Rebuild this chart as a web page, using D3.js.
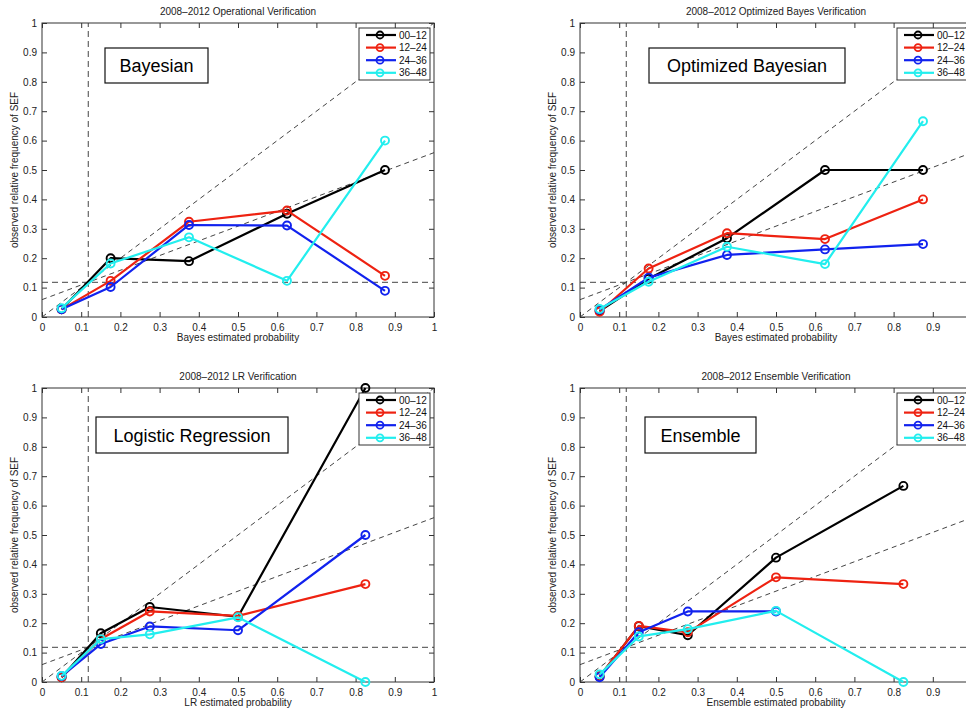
<!DOCTYPE html>
<html>
<head>
<meta charset="utf-8">
<script src="https://cdn.jsdelivr.net/npm/d3@7"></script>
<style>
  html, body { margin: 0; padding: 0; background: #fff; }
  svg { display: block; font-family: "Liberation Sans", Arial, Helvetica, sans-serif; }
</style>
</head>
<body>
<svg id="chart" width="966" height="711"></svg>
<script>
// ---- Data ----
const seriesNames = ["00–12", "12–24", "24–36", "36–48"];
const seriesColors = ["#000000", "#ee2211", "#1122ee", "#22eeee"];
const tickValues = [0, 0.1, 0.2, 0.3, 0.4, 0.5, 0.6, 0.7, 0.8, 0.9, 1];
const climatology = 0.118;

const panelTitles = ["2008–2012 Operational Verification", "2008–2012 Optimized Bayes Verification",
                     "2008–2012 LR Verification", "2008–2012 Ensemble Verification"];
const panelXLabels = ["Bayes estimated probability", "Bayes estimated probability",
                      "LR estimated probability", "Ensemble estimated probability"];
const panelBoxLabels = ["Bayesian", "Optimized Bayesian", "Logistic Regression", "Ensemble"];
const yLabel = "observed relative frequency of SEF";

const bayesX  = [0.05, 0.175, 0.375, 0.625, 0.875];
const bayes00 = [0.026, 0.200, 0.190, 0.351, 0.500];
const bayes12 = [0.026, 0.123, 0.324, 0.362, 0.140];
const bayes24 = [0.026, 0.102, 0.313, 0.311, 0.089];
const bayes36 = [0.030, 0.182, 0.271, 0.123, 0.600];

const optX  = [0.05, 0.175, 0.375, 0.625, 0.875];
const opt00 = [0.020, 0.130, 0.268, 0.500, 0.500];
const opt12 = [0.018, 0.165, 0.285, 0.265, 0.400];
const opt24 = [0.025, 0.134, 0.211, 0.230, 0.248];
const opt36 = [0.027, 0.120, 0.239, 0.180, 0.666];

const lrX  = [0.05, 0.15, 0.275, 0.5, 0.825];
const lr00 = [0.016, 0.166, 0.255, 0.222, 1.000];
const lr12 = [0.016, 0.146, 0.240, 0.225, 0.333];
const lr24 = [0.020, 0.129, 0.189, 0.176, 0.500];
const lr36 = [0.021, 0.146, 0.162, 0.220, 0.000];

const ensX  = [0.05, 0.15, 0.275, 0.5, 0.825];
const ens00 = [0.019, 0.190, 0.159, 0.423, 0.667];
const ens12 = [0.019, 0.191, 0.169, 0.356, 0.333];
const ens24 = [0.016, 0.169, 0.240, 0.240, null];
const ens36 = [0.026, 0.155, 0.180, 0.242, 0.000];

const panelX = [bayesX, optX, lrX, ensX];
const panelY = [[bayes00, bayes12, bayes24, bayes36],
                [opt00, opt12, opt24, opt36],
                [lr00, lr12, lr24, lr36],
                [ens00, ens12, ens24, ens36]];

// ---- Layout ----
const SVG_W = 966;
const panelPos = [{x: 42, y: 23}, {x: 580, y: 23}, {x: 42, y: 388}, {x: 580, y: 388}];
const boxPos = [{dx: 63, dy: 25, w: 103, h: 35}, {dx: 69, dy: 25, w: 196, h: 35},
                {dx: 54, dy: 29, w: 192, h: 36}, {dx: 65, dy: 29, w: 111, h: 36}];
const W = 392, H = 294;

const svg = d3.select("#chart");
svg.append("rect").attr("width", 966).attr("height", 711).attr("fill", "#fff");

const fmt = d => d === 0 ? "0" : d === 1 ? "1" : d.toFixed(1);

panelPos.forEach((p, i) => {
  const x = d3.scaleLinear().domain([0, 1]).range([0, W]);
  const y = d3.scaleLinear().domain([0, 1]).range([H, 0]);
  const g = svg.append("g").attr("transform", `translate(${p.x},${p.y})`);

  const clipId = "clip" + i;
  g.append("clipPath").attr("id", clipId).append("rect").attr("width", W).attr("height", H);

  // x tick labels that fall outside the window are not shown (as in the reference)
  const xFmt = d => (p.x + x(d) + 4 > SVG_W) ? "" : fmt(d);

  // Axes (ticks inside)
  const axB = g.append("g").attr("transform", `translate(0,${H})`)
    .call(d3.axisBottom(x).tickValues(tickValues).tickSize(-5).tickPadding(7).tickFormat(xFmt));
  const axT = g.append("g")
    .call(d3.axisTop(x).tickValues(tickValues).tickSize(-5).tickFormat(""));
  const axL = g.append("g")
    .call(d3.axisLeft(y).tickValues(tickValues).tickSize(-5).tickPadding(5).tickFormat(fmt));
  const axR = g.append("g").attr("transform", `translate(${W},0)`)
    .call(d3.axisRight(y).tickValues(tickValues).tickSize(-5).tickFormat(""));
  [axB, axT, axL, axR].forEach(a => {
    a.select(".domain").remove();
    a.selectAll("line").attr("stroke", "#333");
    a.selectAll("text").attr("font-size", 10).attr("fill", "#222")
      .attr("font-family", "Liberation Sans, Arial, sans-serif");
  });

  // Reference lines
  const ref = g.append("g").attr("clip-path", `url(#${clipId})`).attr("fill", "none");
  ref.append("line").attr("x1", x(0)).attr("y1", y(0)).attr("x2", x(1)).attr("y2", y(1))
    .attr("stroke", "#444").attr("stroke-width", 1).attr("stroke-dasharray", "5,4");
  ref.append("line").attr("x1", x(0)).attr("y1", y(climatology / 2)).attr("x2", x(1)).attr("y2", y((1 + climatology) / 2))
    .attr("stroke", "#444").attr("stroke-width", 1).attr("stroke-dasharray", "5,4");
  ref.append("line").attr("x1", x(0)).attr("y1", y(climatology)).attr("x2", x(1)).attr("y2", y(climatology))
    .attr("stroke", "#444").attr("stroke-width", 1).attr("stroke-dasharray", "6,4");
  ref.append("line").attr("x1", x(climatology)).attr("y1", y(0)).attr("x2", x(climatology)).attr("y2", y(1))
    .attr("stroke", "#444").attr("stroke-width", 1).attr("stroke-dasharray", "6,4");

  // Frame
  g.append("rect").attr("width", W).attr("height", H).attr("fill", "none")
    .attr("stroke", "#333").attr("stroke-width", 1);

  // Series
  const xs = panelX[i];
  panelY[i].forEach((ys, s) => {
    const pts = xs.map((xv, k) => ({x: xv, y: ys[k]})).filter(d => d.y !== null);
    const line = d3.line().x(d => x(d.x)).y(d => y(d.y));
    g.append("path").datum(pts).attr("d", line).attr("fill", "none")
      .attr("stroke", seriesColors[s]).attr("stroke-width", 2.2).attr("stroke-linejoin", "round");
    g.selectAll(null).data(pts).enter().append("circle")
      .attr("cx", d => x(d.x)).attr("cy", d => y(d.y)).attr("r", 4)
      .attr("fill", "none").attr("stroke", seriesColors[s]).attr("stroke-width", 1.9);
  });

  // Method label box
  const b = boxPos[i];
  g.append("rect").attr("x", b.dx).attr("y", b.dy).attr("width", b.w).attr("height", b.h)
    .attr("fill", "#fff").attr("stroke", "#111").attr("stroke-width", 1.2);
  g.append("text").attr("x", b.dx + b.w / 2).attr("y", b.dy + b.h / 2 + 6.5)
    .attr("text-anchor", "middle").attr("font-size", 18).attr("fill", "#000").text(panelBoxLabels[i]);

  // Legend
  const lg = g.append("g").attr("transform", `translate(${W - 75},5)`);
  lg.append("rect").attr("width", 71).attr("height", 52).attr("fill", "#fff")
    .attr("stroke", "#333").attr("stroke-width", 1);
  seriesNames.forEach((name, s) => {
    const yy = 7 + s * 12.6;
    lg.append("line").attr("x1", 7).attr("x2", 37).attr("y1", yy).attr("y2", yy)
      .attr("stroke", seriesColors[s]).attr("stroke-width", 2.2);
    lg.append("circle").attr("cx", 21).attr("cy", yy).attr("r", 3.5)
      .attr("fill", "none").attr("stroke", seriesColors[s]).attr("stroke-width", 1.8);
    lg.append("text").attr("x", 40).attr("y", yy + 3.6).attr("font-size", 10)
      .attr("fill", "#111").text(name);
  });

  // Titles and axis labels
  g.append("text").attr("x", W / 2).attr("y", -8).attr("text-anchor", "middle")
    .attr("font-size", 10).attr("fill", "#222").text(panelTitles[i]);
  g.append("text").attr("x", W / 2).attr("y", H + 24).attr("text-anchor", "middle")
    .attr("font-size", 10).attr("fill", "#222").text(panelXLabels[i]);
  g.append("text").attr("transform", `translate(-24,${H / 2}) rotate(-90)`)
    .attr("text-anchor", "middle").attr("font-size", 10).attr("fill", "#222").text(yLabel);
});
</script>
</body>
</html>
